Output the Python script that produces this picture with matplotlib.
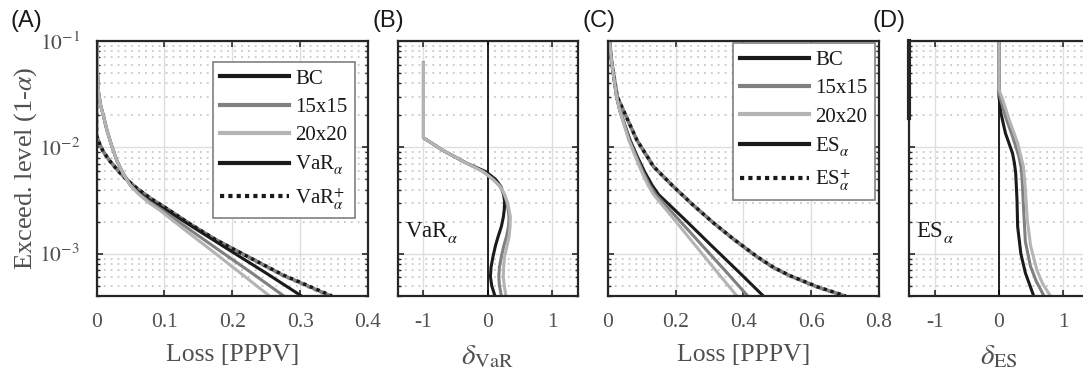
import matplotlib
matplotlib.use('Agg')
import matplotlib.pyplot as plt
from matplotlib.lines import Line2D
from matplotlib.ticker import LogLocator, NullFormatter

# values
models = ['BC', '15x15', '20x20']
colors = ['#1a1a1a', '#808080', '#b4b4b4']

# (A) VaR vs exceedance level
var_y = [0.1, 0.05, 0.033, 0.025, 0.02, 0.0148, 0.0105, 0.0075, 0.0057, 0.00447,
         0.00368, 0.00305, 0.00257, 0.00162, 0.00103, 0.00065, 0.0004]
var_x = [
    [0.001, 0.0015, 0.003, 0.006, 0.010, 0.015, 0.022, 0.030, 0.039, 0.050,
     0.064, 0.083, 0.103, 0.152, 0.201, 0.251, 0.302],
    [0.001, 0.0015, 0.003, 0.006, 0.010, 0.015, 0.022, 0.030, 0.039, 0.049,
     0.062, 0.079, 0.097, 0.141, 0.185, 0.230, 0.276],
    [0.001, 0.0015, 0.003, 0.006, 0.010, 0.015, 0.022, 0.030, 0.039, 0.049,
     0.061, 0.076, 0.093, 0.133, 0.173, 0.213, 0.255],
]
varp_y = [0.1, 0.013, 0.011, 0.0091, 0.0074, 0.006, 0.005, 0.0041, 0.0033, 0.0028,
          0.0019, 0.00135, 0.00091, 0.00063, 0.0004]
varp_x = [
    [0.0, 0.0, 0.004, 0.010, 0.020, 0.032, 0.044, 0.060, 0.080, 0.098, 0.138, 0.176, 0.227, 0.275, 0.347],
    [0.0, 0.0, 0.004, 0.010, 0.020, 0.032, 0.044, 0.060, 0.080, 0.098, 0.138, 0.176, 0.227, 0.274, 0.345],
    [0.0, 0.0, 0.004, 0.010, 0.020, 0.032, 0.044, 0.060, 0.080, 0.098, 0.138, 0.176, 0.226, 0.273, 0.343],
]

# (B) relative difference delta_VaR
dvar_y = [0.062, 0.0123, 0.0093, 0.0071, 0.0059, 0.005, 0.0043, 0.0036, 0.0031, 0.0026,
          0.0022, 0.0018, 0.00145, 0.0012, 0.00094, 0.00075, 0.00061, 0.0005, 0.0004]
dvar_x = [
    [-1, -1, -0.69, -0.33, -0.03, 0.12, 0.20, 0.245, 0.26, 0.255, 0.24, 0.21, 0.16,
     0.12, 0.08, 0.05, 0.04, 0.06, 0.11],
    [-1, -1, -0.69, -0.33, -0.07, 0.08, 0.19, 0.255, 0.29, 0.315, 0.33, 0.32, 0.29,
     0.25, 0.21, 0.18, 0.17, 0.18, 0.21],
    [-1, -1, -0.69, -0.33, -0.07, 0.08, 0.19, 0.26, 0.30, 0.33, 0.35, 0.345, 0.33,
     0.30, 0.26, 0.245, 0.24, 0.255, 0.28],
]

# (C) ES vs exceedance level
es_y = [0.1, 0.062, 0.03, 0.022, 0.0117, 0.0081, 0.0058, 0.0044, 0.0036, 0.0021,
        0.0012, 0.0007, 0.0004]
es_x = [
    [0.005, 0.012, 0.026, 0.036, 0.066, 0.088, 0.110, 0.131, 0.150, 0.227, 0.305, 0.381, 0.459],
    [0.005, 0.012, 0.026, 0.036, 0.064, 0.085, 0.105, 0.124, 0.142, 0.209, 0.278, 0.345, 0.413],
    [0.005, 0.012, 0.026, 0.036, 0.062, 0.082, 0.101, 0.119, 0.135, 0.196, 0.258, 0.318, 0.381],
]
esp_y = [0.1, 0.062, 0.03, 0.0117, 0.0066, 0.0043, 0.0029, 0.00197, 0.00138, 0.00094,
         0.00074, 0.00062, 0.000486, 0.0004]
esp_x = [
    [0.005, 0.012, 0.028, 0.086, 0.135, 0.193, 0.250, 0.310, 0.370, 0.440, 0.490, 0.538, 0.620, 0.702],
    [0.005, 0.012, 0.028, 0.086, 0.135, 0.193, 0.250, 0.310, 0.370, 0.439, 0.489, 0.537, 0.618, 0.699],
    [0.005, 0.012, 0.028, 0.086, 0.135, 0.193, 0.250, 0.310, 0.369, 0.438, 0.488, 0.536, 0.617, 0.696],
]

# (D) relative difference delta_ES
des_y = [
    [0.1, 0.03, 0.021, 0.0136, 0.0088, 0.0071, 0.0057, 0.0032, 0.0018, 0.001, 0.00066, 0.0004],
    [0.1, 0.032, 0.0195, 0.0127, 0.0082, 0.0064, 0.005, 0.0028, 0.0013, 0.00076, 0.00055, 0.0004],
    [0.1, 0.035, 0.028, 0.018, 0.011, 0.0066, 0.004, 0.0021, 0.0012, 0.0007, 0.00052, 0.0004],
]
des_x = [
    [0, 0, 0.03, 0.10, 0.21, 0.24, 0.26, 0.28, 0.29, 0.34, 0.41, 0.54],
    [0, 0, 0.10, 0.21, 0.31, 0.345, 0.36, 0.38, 0.41, 0.49, 0.58, 0.70],
    [0, 0, 0.06, 0.16, 0.29, 0.38, 0.41, 0.44, 0.49, 0.59, 0.68, 0.80],
]
des_clip_y = [0.1, 0.019]

loss_ticks_a = [0, 0.1, 0.2, 0.3, 0.4]
loss_labels_a = ['0', '0.1', '0.2', '0.3', '0.4']
loss_ticks_c = [0, 0.2, 0.4, 0.6, 0.8]
loss_labels_c = ['0', '0.2', '0.4', '0.6', '0.8']
delta_ticks = [-1, 0, 1]
delta_labels = ['-1', '0', '1']
y_ticks = [1e-3, 1e-2, 1e-1]
y_labels = [r'$10^{-3}$', r'$10^{-2}$', r'$10^{-1}$']

plt.rcParams['font.family'] = ['Liberation Serif', 'DejaVu Serif']
plt.rcParams['mathtext.fontset'] = 'stix'

GRAY_TXT = '#505050'
AX_COL = '#262626'
LW = 2.2

fig = plt.figure(figsize=(10.83, 3.75), dpi=100)
W, H = 1083.0, 375.0


def make_axes(left, right):
    ax = fig.add_axes([left / W, (H - 296) / H, (right - left) / W, 255 / H])
    ax.set_yscale('log')
    ax.set_ylim(4e-4, 0.1)
    ax.yaxis.set_minor_locator(LogLocator(base=10, subs=range(2, 10)))
    ax.yaxis.set_minor_formatter(NullFormatter())
    ax.set_yticks(y_ticks)
    ax.set_yticklabels(y_labels)
    ax.grid(which='major', color='#dedede', lw=1.0, ls='-')
    ax.grid(which='minor', axis='y', color='#c8c8c8', lw=1.3, ls=(0, (1, 2.8)))
    ax.set_axisbelow(True)
    for s in ax.spines.values():
        s.set_color(AX_COL)
        s.set_linewidth(1.6)
    ax.tick_params(which='both', direction='in', top=True, right=True,
                   color=AX_COL, labelcolor=GRAY_TXT, labelsize=15.5)
    ax.tick_params(which='major', length=4, width=1.2)
    ax.tick_params(axis='x', which='major', pad=12)
    ax.tick_params(axis='y', which='major', pad=12)
    ax.tick_params(which='minor', length=2.5, width=1.0)
    ax.tick_params(axis='x', which='minor', bottom=False, top=False)
    return ax


ax_a = make_axes(96.5, 368)
ax_b = make_axes(397.7, 578)
ax_c = make_axes(607.7, 879)
ax_d = make_axes(909, 1089)
for ax in (ax_b, ax_c, ax_d):
    ax.tick_params(axis='y', which='both', labelleft=False)

offsets = [0, 1.0, 0.5]

# (A)
for i in (2, 1, 0):
    ax_a.plot(varp_x[i], varp_y, color=colors[i], lw=2.6, ls=(offsets[i], (1, 1)),
              dash_capstyle='butt')
for i in range(3):
    ax_a.plot(var_x[i], var_y, color=colors[i], lw=LW)
ax_a.set_xlim(0, 0.4)
ax_a.set_xticks(loss_ticks_a)
ax_a.set_xticklabels(loss_labels_a)
ax_a.set_xlabel('Loss [PPPV]', fontsize=18.5, color=GRAY_TXT, labelpad=9)
ax_a.set_ylabel(r'Exceed. level (1-$\alpha$)', fontsize=19, color=GRAY_TXT, labelpad=0)

# (B)
ax_b.axvline(0, color='black', lw=1.2)
for i in range(3):
    ax_b.plot(dvar_x[i], dvar_y, color=colors[i], lw=LW)
ax_b.set_xlim(-1.4, 1.4)
ax_b.set_xticks(delta_ticks)
ax_b.set_xticklabels(delta_labels)
ax_b.set_xlabel(r'$\delta_{\mathrm{VaR}}$', fontsize=21, color=GRAY_TXT, labelpad=8)
ax_b.text(-1.29, 0.00145, r'VaR$^{\,}_{\alpha}$', fontsize=16.5, color='#1a1a1a', va='baseline')

# (C)
for i in (2, 1, 0):
    ax_c.plot(esp_x[i], esp_y, color=colors[i], lw=2.6, ls=(offsets[i], (1, 1)),
              dash_capstyle='butt')
for i in range(3):
    ax_c.plot(es_x[i], es_y, color=colors[i], lw=LW)
ax_c.set_xlim(0, 0.8)
ax_c.set_xticks(loss_ticks_c)
ax_c.set_xticklabels(loss_labels_c)
ax_c.set_xlabel('Loss [PPPV]', fontsize=18.5, color=GRAY_TXT, labelpad=9)

# (D)
ax_d.axvline(0, color='black', lw=1.2)
for i in range(3):
    ax_d.plot(des_x[i], des_y[i], color=colors[i], lw=LW)
ax_d.plot([-1.4, -1.4], des_clip_y, color=AX_COL, lw=3.0, clip_on=False)
ax_d.set_xlim(-1.4, 1.4)
ax_d.set_xticks(delta_ticks)
ax_d.set_xticklabels(delta_labels)
ax_d.set_xlabel(r'$\delta_{\mathrm{ES}}$', fontsize=21, color=GRAY_TXT, labelpad=8)
ax_d.text(-1.29, 0.00145, r'ES$^{\,}_{\alpha}$', fontsize=16.5, color='#1a1a1a', va='baseline')


def add_legend(ax, risk, anchor):
    handles = [Line2D([], [], color=c, lw=3) for c in colors]
    handles.append(Line2D([], [], color='#1a1a1a', lw=3))
    handles.append(Line2D([], [], color='#1a1a1a', lw=3, ls=(0, (1, 1))))
    labels = models + [risk + r'$^{\,}_{\alpha}$', risk + r'$^{+}_{\alpha}$']
    leg = ax.legend(handles, labels, loc='upper right', bbox_to_anchor=anchor,
                    borderaxespad=0, fontsize=15, handlelength=3.3, handletextpad=0.3,
                    labelspacing=0.42, borderpad=0.35, fancybox=False, framealpha=1)
    leg.get_frame().set_edgecolor('#808080')
    leg.get_frame().set_linewidth(1.2)
    for t in leg.get_texts():
        t.set_color('#1a1a1a')


add_legend(ax_a, 'VaR', (0.952, 0.919))
add_legend(ax_c, 'ES', (0.985, 0.992))

for lab, x in zip(['(A)', '(B)', '(C)', '(D)'], [10, 373, 583, 873]):
    fig.text(x / W, 1 - 21 / H, lab, fontsize=17, family='Liberation Sans',
             color='#1a1a1a', va='center', ha='left')

fig.savefig('out.png', dpi=100)
